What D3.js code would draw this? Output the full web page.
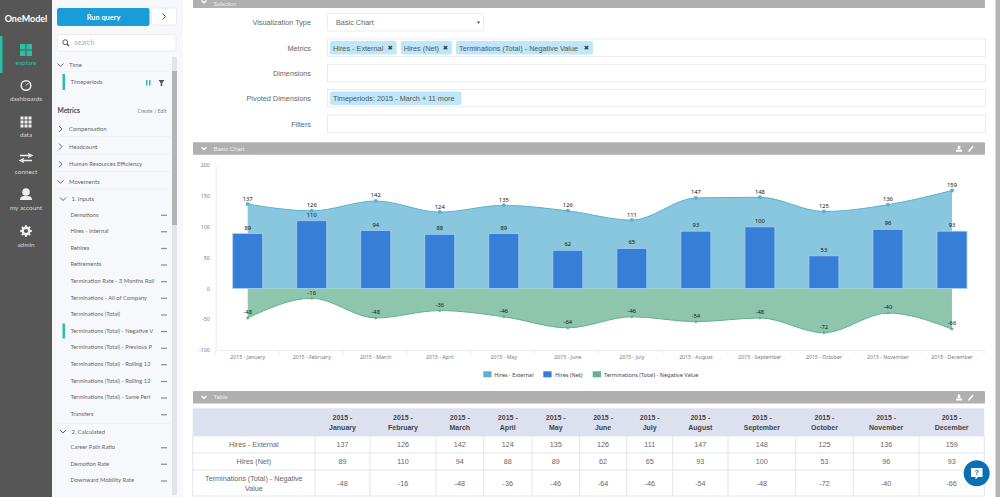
<!DOCTYPE html>
<html>
<head>
<meta charset="utf-8">
<title>OneModel</title>
<script src="https://cdn.jsdelivr.net/npm/d3@7"></script>
<style>
  html, body { margin: 0; padding: 0; background: #fff; overflow: hidden; }
  svg { display: block; }
  .side { font-family: Lato, 'Noto Sans', sans-serif; }
  .form { font-family: 'Liberation Sans', Arial, sans-serif; }
  .chart { font-family: 'Noto Sans', sans-serif; }
</style>
</head>
<body>
<div id="page"></div>
<script>
const months = ['2015 - January', '2015 - February', '2015 - March', '2015 - April', '2015 - May', '2015 - June',
  '2015 - July', '2015 - August', '2015 - September', '2015 - October', '2015 - November', '2015 - December'];
const hiresExternal = [137, 126, 142, 124, 135, 126, 111, 147, 148, 125, 136, 159];
const hiresNet = [89, 110, 94, 88, 89, 62, 65, 93, 100, 53, 96, 93];
const terminations = [-48, -16, -48, -36, -46, -64, -46, -54, -48, -72, -40, -66];
const yTicks = [200, 150, 100, 50, 0, -50, -100];
const seriesNames = ['Hires - External', 'Hires (Net)', 'Terminations (Total) - Negative Value'];

const navItems = ['explore', 'dashboards', 'data', 'connect', 'my account', 'admin'];
const groupItems = ['Compensation', 'Headcount', 'Human Resources Efficiency', 'Movements'];
const inputItems = ['Demotions', 'Hires - Internal', 'Rehires', 'Retirements', 'Termination Rate - 3 Months Roll',
  'Terminations - All of Company', 'Terminations (Total)', 'Terminations (Total) - Negative V',
  'Terminations (Total) - Previous P', 'Terminations (Total) - Rolling 12', 'Terminations (Total) - Rolling 12',
  'Terminations (Total) - Same Peri', 'Transfers'];
const calculatedItems = ['Career Path Ratio', 'Demotion Rate', 'Downward Mobility Rate'];
const formLabels = ['Visualization Type', 'Metrics', 'Dimensions', 'Pivoted Dimensions', 'Filters'];

const svg = d3.select('#page').append('svg').attr('width', 1000).attr('height', 497);

function rect(g, x, y, w, h, fill, rx) {
  return g.append('rect').attr('x', x).attr('y', y).attr('width', w).attr('height', h)
    .attr('fill', fill).attr('rx', rx || 0);
}
function text(g, x, y, str, size, fill, anchor) {
  return g.append('text').attr('x', x).attr('y', y).attr('dy', '.35em')
    .attr('font-size', size).attr('fill', fill).attr('text-anchor', anchor || 'start').text(str);
}
function chevron(g, x, y, down, color) {
  const p = down ? `M${x - 3},${y - 1.5}L${x},${y + 1.5}L${x + 3},${y - 1.5}` : `M${x - 1.5},${y - 3}L${x + 1.5},${y}L${x - 1.5},${y + 3}`;
  g.append('path').attr('d', p).attr('fill', 'none').attr('stroke', color || '#555').attr('stroke-width', 0.9);
}
function dots(g, x, y) {
  [-2, 0, 2].forEach(d => g.append('circle').attr('cx', x + d).attr('cy', y).attr('r', 0.75).attr('fill', '#555'));
}

// left nav
const nav = svg.append('g').attr('class', 'side');
rect(nav, 0, 0, 52, 497, '#565656');
rect(nav, 0, 36, 2.5, 37, '#2bbfa3');
text(nav, 26, 18.5, 'OneModel', 9, '#fff', 'middle').attr('font-weight', 700);
navItems.forEach((d, i) => {
  text(nav, 26, 62.3 + i * 36.4, d, 6.4, i === 0 ? '#2bbfa3' : '#d6d6d6', 'middle');
});
// explore
[[20, 44], [26.5, 44], [20, 50.5], [26.5, 50.5]].forEach(p => rect(nav, p[0], p[1], 5.5, 5.5, '#2bbfa3'));
// dashboards
nav.append('circle').attr('cx', 26).attr('cy', 85.5).attr('r', 4.8).attr('fill', 'none').attr('stroke', '#eee').attr('stroke-width', 1.5);
nav.append('path').attr('d', 'M26,85.5L28.5,83').attr('stroke', '#eee').attr('stroke-width', 1);
// data
d3.range(3).forEach(r => d3.range(3).forEach(c => rect(nav, 20.5 + c * 4, 116.5 + r * 4, 3, 3, '#eee')));
// connect
nav.append('path').attr('d', 'M20,155.5H30M28,153.5L32,155.5L28,157.5M32,160.5H22M24,158.5L20,160.5L24,162.5')
  .attr('fill', 'none').attr('stroke', '#eee').attr('stroke-width', 1.3);
// my account
nav.append('circle').attr('cx', 26).attr('cy', 192).attr('r', 3.8).attr('fill', '#eee');
nav.append('path').attr('d', 'M20,200C20,196 23,196 26,196C29,196 32,196 32,200Z').attr('fill', '#eee');
// admin
nav.append('circle').attr('cx', 26).attr('cy', 231).attr('r', 3.3).attr('fill', 'none').attr('stroke', '#eee').attr('stroke-width', 2.4);
d3.range(8).forEach(i => nav.append('rect').attr('x', 25).attr('y', 225.2).attr('width', 2).attr('height', 2)
  .attr('fill', '#eee').attr('transform', `rotate(${i * 45} 26 231)`));

// metric panel
const panel = svg.append('g').attr('class', 'side');
rect(panel, 52, 0, 131, 497, '#f7f8fc');
rect(panel, 57, 8, 92.5, 18, '#1a9cd8', 2);
text(panel, 103.5, 17.3, 'Run query', 7.4, '#fff', 'middle').attr('font-weight', 700);
rect(panel, 151.5, 8, 25, 17, '#fff', 2).attr('stroke', '#e3e5ea').attr('stroke-width', 0.7);
chevron(panel, 164, 16.5, false, '#333');
rect(panel, 57.5, 34.5, 118.5, 16.5, '#fff', 2).attr('stroke', '#e0e2e8').attr('stroke-width', 0.7);
panel.append('circle').attr('cx', 65.2).attr('cy', 42.2).attr('r', 2.4).attr('fill', 'none').attr('stroke', '#444').attr('stroke-width', 0.9);
panel.append('path').attr('d', 'M67,44L69,46').attr('stroke', '#444').attr('stroke-width', 1.1);
text(panel, 74.5, 43, 'search', 7, '#aaa');

rect(panel, 172, 57, 5, 438, '#e3e4e8');
rect(panel, 172, 71, 5, 154, '#b4b4b4');

chevron(panel, 60.5, 65, true);
text(panel, 69, 65, 'Time', 5.9, '#666');
rect(panel, 57, 71.5, 114, 0.7, '#eceef3');
rect(panel, 62.5, 74, 2.5, 16, '#2bbfa3');
text(panel, 70.5, 81.7, 'Timeperiods', 5.9, '#666');
rect(panel, 146, 80, 1.5, 5.5, '#2bbfa3');
rect(panel, 149, 80, 1.5, 5.5, '#2bbfa3');
panel.append('path').attr('d', 'M158.5,80H164.5L162.3,83V86H160.7V83Z').attr('fill', '#555');

text(panel, 57.5, 110.3, 'Metrics', 6.6, '#444').attr('font-weight', 700);
text(panel, 166.5, 111, 'Create / Edit', 5.2, '#888', 'end');

groupItems.forEach((d, i) => {
  const y = 129 + i * 17.6;
  chevron(panel, 60.5, y, i === 3);
  text(panel, 69, y, d, 5.9, '#666');
  rect(panel, 57, y + 7, 114, 0.7, '#eceef3');
});

chevron(panel, 63, 199, true);
text(panel, 71.5, 199, '1. Inputs', 5.9, '#666');
inputItems.forEach((d, i) => {
  const y = 214.5 + i * 16.62;
  text(panel, 70.5, y, d, 5.8, '#666');
  dots(panel, 164, y + 0.7);
});
rect(panel, 62.5, 323.5, 2.5, 15, '#2bbfa3');
rect(panel, 57, 423, 114, 0.7, '#eceef3');
chevron(panel, 63, 431.5, true);
text(panel, 71.5, 431.5, '2. Calculated', 5.9, '#666');
calculatedItems.forEach((d, i) => {
  const y = 447 + i * 16.6;
  text(panel, 70.5, y, d, 5.8, '#666');
  dots(panel, 164, y + 0.7);
});

// section headers
const main = svg.append('g').attr('class', 'form');
rect(main, 995.5, 0, 4.5, 497, '#b4b4b4');
[['Selection', -4.5, 3.6], ['Basic Chart', 142.3, 148.5], ['Table', 391, 397.2]].forEach((d, i) => {
  rect(main, 193, d[1], 792, 12.5, '#b0b0b0', 1);
  main.append('path').attr('d', `M${201.5},${d[1] + 5}L${204},${d[1] + 7.2}L${206.5},${d[1] + 5}`)
    .attr('fill', 'none').attr('stroke', '#fff').attr('stroke-width', 1.4);
  text(main, 213.5, d[2], d[0], i === 0 ? 5.5 : 6, '#eee');
  if (i > 0) {
    main.append('path').attr('d', `M956,${d[1] + 9.5}H962V${d[1] + 7.5}H956ZM957.5,${d[1] + 7}L958,${d[1] + 3.5}H960L960.5,${d[1] + 7}Z`).attr('fill', '#fff');
    main.append('path').attr('d', `M968.5,${d[1] + 9.5}L973,${d[1] + 4}`).attr('stroke', '#fff').attr('stroke-width', 1.5);
  }
});

// selection form
const fieldY = [13.5, 39, 64.3, 89.3, 115];
formLabels.forEach((d, i) => {
  text(main, 311, fieldY[i] + 9, d, 7.3, '#666', 'end');
  const w = i === 0 ? 156 : 658;
  rect(main, 327.5, fieldY[i], w, 17.5, '#fff', i === 0 ? 2 : 0).attr('stroke', '#e6e6e6').attr('stroke-width', 0.8);
});
text(main, 336, 22.5, 'Basic Chart', 7.3, '#666');
main.append('path').attr('d', 'M477,21.5H480L478.5,24Z').attr('fill', '#444');
const chips = [[330, 66.7, seriesNames[0]], [400.7, 51.3, seriesNames[1]], [456, 137, seriesNames[2]]];
chips.forEach(c => {
  rect(main, c[0], 41, c[1], 13.5, '#bfe7fb', 2);
  text(main, c[0] + 3, 48, c[2], 7.3, '#555');
  text(main, c[0] + c[1] - 6.5, 47.8, '✖', 6.5, '#444', 'middle').attr('font-family', 'DejaVu Sans');
});
rect(main, 330, 91.5, 131.6, 13.5, '#bfe7fb', 2);
text(main, 333, 98.3, 'Timeperiods: 2015 - March + 11 more', 7.3, '#555');

// chart
const chart = svg.append('g').attr('class', 'chart');
const x = d3.scaleBand().domain(months).range([215.7, 984]);
const y = d3.scaleLinear().domain([-100, 200]).range([350, 165.3]);
const cx = m => x(m) + x.bandwidth() / 2;

const yAxis = chart.append('g').attr('transform', 'translate(215.7,0)')
  .call(d3.axisLeft(y).tickValues(yTicks).tickSize(0).tickPadding(6).tickFormat(d => String(d)));
const xAxis = chart.append('g').attr('transform', 'translate(0,350)')
  .call(d3.axisBottom(x).tickSize(0).tickPadding(5));
[yAxis, xAxis].forEach(a => {
  a.select('.domain').attr('stroke', '#e6ebf3').attr('stroke-width', 1);
  a.selectAll('text').attr('font-family', 'Noto Sans').attr('font-size', 5.2).attr('fill', '#777');
});
chart.selectAll('.edge').data(months.concat(['end'])).enter().append('line')
  .attr('x1', d => d === 'end' ? x.range()[1] : x(d))
  .attr('x2', d => d === 'end' ? x.range()[1] : x(d))
  .attr('y1', 350).attr('y2', 354).attr('stroke', '#e6ebf3');

const seriesLines = [[hiresExternal, '#5cb1d3', 2], [terminations, '#62b08e', 1.4]];
seriesLines.forEach(s => {
  const area = d3.area().x((d, i) => cx(months[i])).y0(y(0)).y1(d => y(d)).curve(d3.curveMonotoneX);
  const line = d3.line().x((d, i) => cx(months[i])).y(d => y(d)).curve(d3.curveMonotoneX);
  chart.append('path').attr('d', area(s[0])).attr('fill', s[1]).attr('fill-opacity', 0.72);
  chart.append('path').attr('d', line(s[0])).attr('fill', 'none').attr('stroke', s[1]).attr('stroke-width', 1);
  chart.selectAll(null).data(s[0]).enter().append('circle')
    .attr('cx', (d, i) => cx(months[i])).attr('cy', d => y(d)).attr('r', s[2]).attr('fill', s[1]);
});

const barW = 30;
chart.selectAll('.bar').data(hiresNet).enter().append('rect')
  .attr('x', (d, i) => cx(months[i]) - barW / 2)
  .attr('y', d => y(d))
  .attr('width', barW)
  .attr('height', d => y(0) - y(d))
  .attr('fill', '#367ed6').attr('stroke', '#a9cdf2').attr('stroke-width', 0.8);

[[hiresExternal, 5.6], [hiresNet, 6], [terminations, 5.8]].forEach(s => {
  chart.selectAll(null).data(s[0]).enter().append('text')
    .attr('x', (d, i) => cx(months[i])).attr('y', d => y(d) - s[1]).attr('dy', '.35em')
    .attr('text-anchor', 'middle').attr('font-size', 5.8).attr('fill', '#111')
    .text(d => d);
});

// legend
const legendX = [[483.3, 494.3], [543.3, 555], [592.7, 604]];
const legendColors = ['#5cb1d3', '#367ed6', '#62b08e'];
seriesNames.forEach((d, i) => {
  rect(chart, legendX[i][0], 371.3, 8.3, 6, legendColors[i]);
  text(chart, legendX[i][1], 374.6, d, 5.5, '#444');
});

// table
const table = svg.append('g').attr('class', 'form');
const colEdges = [192.7, 315, 370, 436, 483.6, 532, 579.5, 626.7, 672.7, 728, 795.7, 853.3, 919, 984.3];
const rowEdges = [408.3, 436, 453, 470, 496];
rect(table, colEdges[0], rowEdges[0], colEdges[13] - colEdges[0], rowEdges[1] - rowEdges[0], '#dde1ef');
rowEdges.slice(1).forEach(r => table.append('line').attr('x1', colEdges[0]).attr('x2', colEdges[13]).attr('y1', r).attr('y2', r)
  .attr('stroke', '#e2e5f3').attr('stroke-width', 1));
colEdges.forEach(c => table.append('line').attr('x1', c).attr('x2', c).attr('y1', rowEdges[1]).attr('y2', rowEdges[4])
  .attr('stroke', '#e2e5f3').attr('stroke-width', 1));

const rowLabelCenter = (colEdges[0] + colEdges[1]) / 2;
text(table, rowLabelCenter, 444.6, seriesNames[0], 7.2, '#666', 'middle');
text(table, rowLabelCenter, 461.5, seriesNames[1], 7.2, '#666', 'middle');
text(table, rowLabelCenter, 478, 'Terminations (Total) - Negative', 7.2, '#666', 'middle');
text(table, rowLabelCenter, 488, 'Value', 7.2, '#666', 'middle');

months.forEach((m, i) => {
  const c = (colEdges[i + 1] + colEdges[i + 2]) / 2;
  const parts = m.split(' - ');
  text(table, c, 417.3, parts[0] + ' -', 7, '#444', 'middle').attr('font-weight', 700);
  text(table, c, 427.6, parts[1], 7, '#444', 'middle').attr('font-weight', 700);
  text(table, c, 444.6, hiresExternal[i], 7.2, '#666', 'middle');
  text(table, c, 461.5, hiresNet[i], 7.2, '#666', 'middle');
  text(table, c, 483, terminations[i], 7.2, '#666', 'middle');
});

// help bubble
const help = svg.append('g');
help.append('circle').attr('cx', 976.7).attr('cy', 473.3).attr('r', 13).attr('fill', '#0a6fb5');
help.append('path').attr('d', 'M971,468H982.5V477H978L975.5,479.5V477H971Z').attr('fill', '#fff');
text(help, 976.7, 472.5, '?', 7, '#0a6fb5', 'middle').attr('font-family', 'Liberation Sans').attr('font-weight', 700);
</script>
</body>
</html>
